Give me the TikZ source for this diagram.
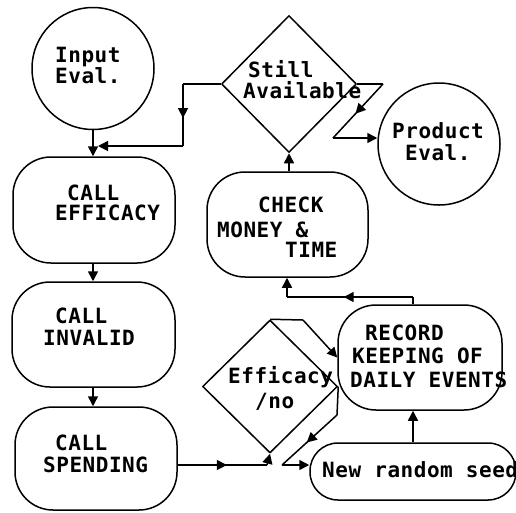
\documentclass[tikz,border=0pt]{standalone}
\usepackage{fontspec}
\setmonofont{DejaVu Sans Mono}[LetterSpace=2.5]
\usetikzlibrary{arrows.meta,shapes.geometric,decorations.markings}
\tikzset{
  ln/.style={line width=1.5pt, line join=round},
  tip/.style={ln, -{Triangle[length=10pt,width=10pt]}},
  midarrow/.style={ln, postaction={decorate}, decoration={markings, mark=at position 0.55 with {\arrow{Triangle[length=10pt,width=10pt]}}}},
  roundbox/.style={ln, draw, rectangle, rounded corners=38pt, inner sep=0pt},
  circ/.style={ln, draw, circle, inner sep=0pt},
  dia/.style={ln, draw, diamond, inner sep=0pt},
  txt/.style={anchor=base west, inner sep=0pt, text depth=0pt, font=\ttfamily\bfseries\fontsize{21}{22}\selectfont}
}
\begin{document}
\begin{tikzpicture}[x=1pt, y=-1pt]
\useasboundingbox (0,0) rectangle (516,512);
% shapes
\node[circ, minimum size=122pt] (input) at (93,68.5) {};
\node[circ, minimum size=122pt] (prod) at (439,144) {};
\node[roundbox, minimum width=162pt, minimum height=106pt] (eff) at (94,210) {};
\node[roundbox, minimum width=163pt, minimum height=105pt] (inv) at (93.5,334.5) {};
\node[roundbox, minimum width=162pt, minimum height=103pt] (spend) at (96,458.5) {};
\node[roundbox, minimum width=161pt, minimum height=105pt] (check) at (287.5,224.5) {};
\node[roundbox, minimum width=164pt, minimum height=105pt] (record) at (420,357.5) {};
\node[roundbox, rounded corners=28pt, minimum width=206pt, minimum height=57pt] (seed) at (413,471.5) {};
\node[dia, minimum width=135pt, minimum height=137pt] (still) at (289,84) {};
\node[dia, minimum width=135pt, minimum height=133pt] (effd) at (270,386.5) {};
% texts
\node[txt] (t1) at (55,62) {Input};
\node[txt] (t2) at (55,83) {Eval.};
\node[txt] (t3) at (67,200) {CALL};
\node[txt] (t4) at (55,220) {EFFICACY};
\node[txt] (t5) at (55,323) {CALL};
\node[txt] (t6) at (43,345) {INVALID};
\node[txt] (t7) at (55,450) {CALL};
\node[txt] (t8) at (43,472) {SPENDING};
\node[txt] (t9) at (248,77) {Still};
\node[txt] (t10) at (243,98) {Available};
\node[txt] (t11) at (392,138) {Product};
\node[txt] (t12) at (405,160) {Eval.};
\node[txt] (t13) at (258,212) {CHECK};
\node[txt] (t14) at (217,237) {MONEY \&};
\node[txt] (t15) at (285,257) {TIME};
\node[txt] (t16) at (365,340) {RECORD};
\node[txt] (t17) at (352,363) {KEEPING OF};
\node[txt] (t18) at (350,387) {DAILY EVENTS};
\node[txt] (t19) at (228,383) {Efficacy};
\node[txt] (t20) at (255,408) {/no};
\node[txt] (t21) at (322,477) {New random seed};
% connector coordinates
\coordinate (sa1) at (183,84);
\coordinate (sa2) at (183,146);
\coordinate (sa3) at (98,146);
\coordinate (rc1) at (413,297);
\coordinate (rc2) at (287,297);
\coordinate (sp1) at (267,465);
\coordinate (d1) at (337,415);
\coordinate (d2) at (282,465);
\coordinate (d3) at (303,320);
\coordinate (p1) at (383,84);
\coordinate (p2) at (333,138);
% connectors
\draw[tip] (input.south) -- (input.south |- eff.north);
\draw[tip] (input.south |- eff.south) -- (input.south |- inv.north);
\draw[tip] (input.south |- inv.south) -- (input.south |- spend.north);
\draw[midarrow] (spend.east |- sp1) -- (sp1);
\draw[tip] (sp1) -- (effd.south);
\draw[ln] (effd.east) -- (d1);
\draw[midarrow] (d1) -- (d2);
\draw[tip] (d2) -- (d2 -| seed.west);
\draw[ln] (effd.north) -- (d3);
\draw[tip] (d3) -- (record.west);
\draw[tip] (seed.north) -- (seed.north |- record.south);
\draw[ln] (rc1 |- record.north) -- (rc1);
\draw[midarrow] (rc1) -- (rc2);
\draw[tip] (rc2) -- (rc2 |- check.south);
\draw[tip] (still.south |- check.north) -- (still.south);
\draw[ln] (still.west) -- (sa1);
\draw[midarrow] (sa1) -- (sa2);
\draw[tip] (sa2) -- (sa3);
\draw[ln] (still.east) -- (p1);
\draw[midarrow] (p1) -- (p2);
\draw[tip] (p2) -- (p2 -| prod.west);
\end{tikzpicture}
\end{document}
